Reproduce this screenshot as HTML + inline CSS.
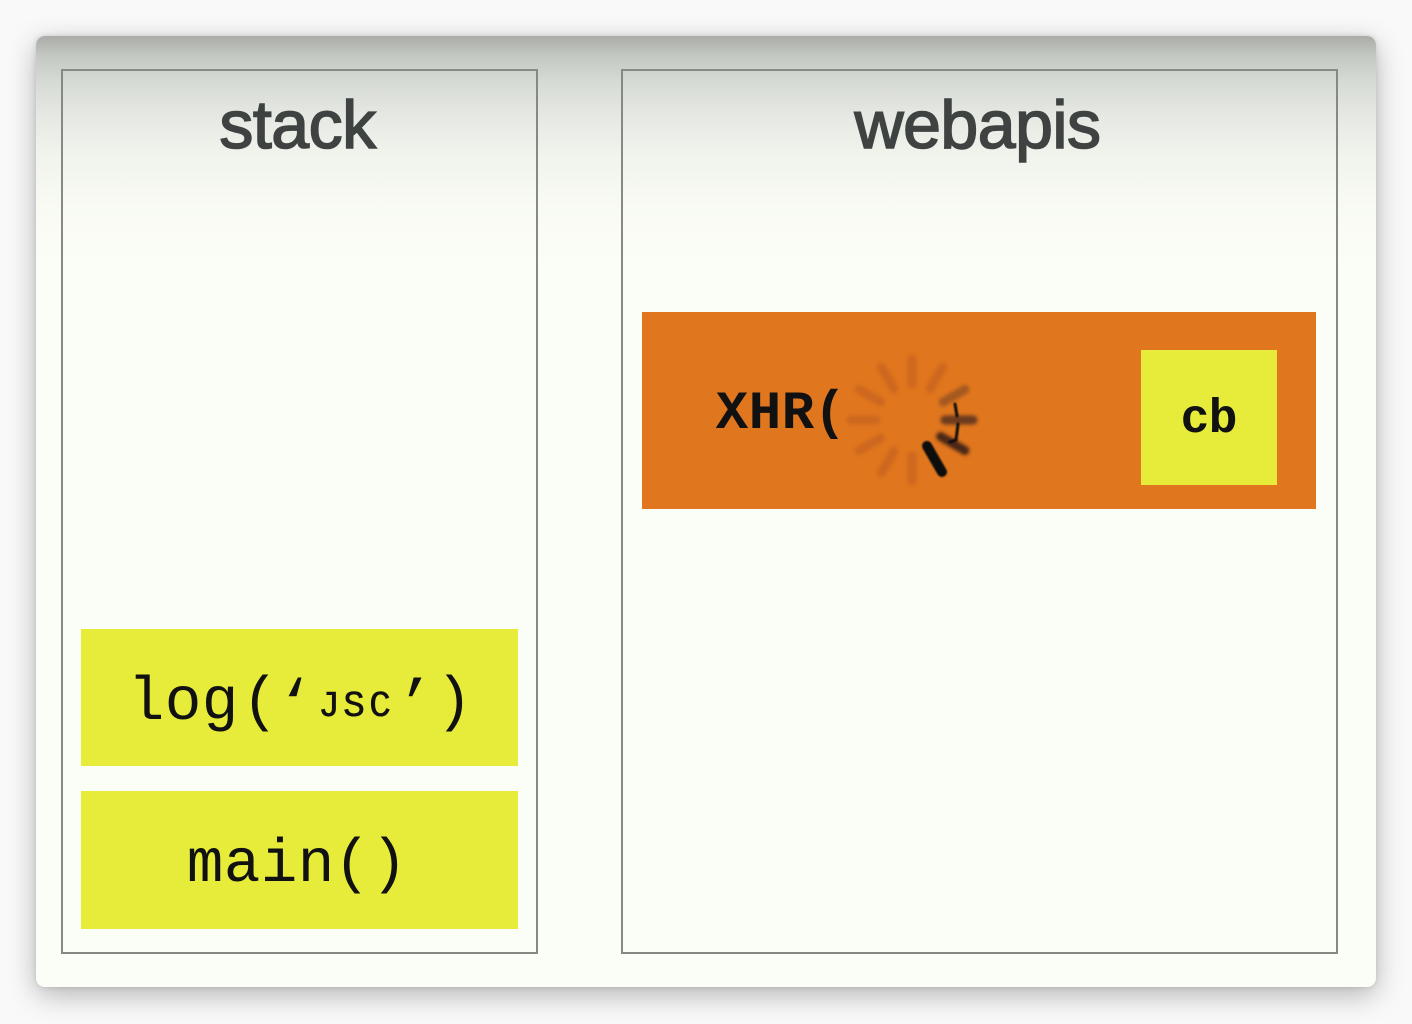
<!DOCTYPE html>
<html>
<head>
<meta charset="utf-8">
<style>
  html,body{margin:0;padding:0;}
  body{width:1412px;height:1024px;background:#f9f9f9;position:relative;overflow:hidden;}
  .card{position:absolute;left:36px;top:36px;width:1340px;height:951px;border-radius:9px;
    background:linear-gradient(to bottom,#aaada7 0px,#c4c8c2 20px,#d6dad4 45px,#e6e9e3 80px,#f1f4ed 120px,#f8faf3 170px,#fbfdf7 230px,#fbfdf7 100%);
    box-shadow:0 8px 28px rgba(0,0,0,0.28),0 0 6px rgba(0,0,0,0.12);}
  .panel{position:absolute;border:2px solid #858a85;box-sizing:border-box;}
  .title{position:absolute;text-align:center;font-family:"Liberation Sans",sans-serif;
    font-weight:normal;font-size:68px;line-height:68px;color:#3e4342;letter-spacing:-0.5px;
    -webkit-text-stroke:1.6px #3e4342;}
  .yel{position:absolute;background:#e7ec3b;}
  .ch{position:absolute;width:60px;text-align:center;font-family:"Liberation Mono",monospace;color:#111;}
  .m61{font-size:61px;line-height:61px;}
  .s36{font-size:36px;line-height:36px;-webkit-text-stroke:0.6px #111;}
  .xhr{font-size:54px;line-height:54px;font-weight:bold;}
  .cb{font-size:48px;line-height:48px;font-weight:bold;}
</style>
</head>
<body>
<div class="card"></div>

<!-- stack panel -->
<div class="panel" style="left:61px;top:69px;width:477px;height:885px;"></div>
<div class="title" style="left:59px;width:477px;top:91px;">stack</div>

<!-- webapis panel -->
<div class="panel" style="left:621px;top:69px;width:717px;height:885px;"></div>
<div class="title" style="left:619px;width:717px;top:91px;">webapis</div>

<!-- log('JSC') box -->
<div class="yel" style="left:81px;top:629px;width:437px;height:137px;"></div>
<span class="ch m61" style="left:116px;top:673px;">l</span>
<span class="ch m61" style="left:153px;top:673px;">o</span>
<span class="ch m61" style="left:190px;top:673px;">g</span>
<span class="ch m61" style="left:230px;top:673px;">(</span>
<span class="ch m61" style="left:265px;top:676px;">‘</span>
<span class="ch s36" style="left:299px;top:689px;">J</span>
<span class="ch s36" style="left:324px;top:689px;">S</span>
<span class="ch s36" style="left:350px;top:689px;">C</span>
<span class="ch m61" style="left:385px;top:676px;">’</span>
<span class="ch m61" style="left:424px;top:673px;">)</span>

<!-- main() box -->
<div class="yel" style="left:81px;top:791px;width:437px;height:138px;"></div>
<span class="ch m61" style="left:175px;top:835px;">m</span>
<span class="ch m61" style="left:212px;top:835px;">a</span>
<span class="ch m61" style="left:249px;top:835px;">i</span>
<span class="ch m61" style="left:286px;top:835px;">n</span>
<span class="ch m61" style="left:322px;top:835px;">(</span>
<span class="ch m61" style="left:359px;top:835px;">)</span>

<!-- XHR box -->
<div style="position:absolute;left:642px;top:312px;width:674px;height:197px;background:#e0761e;"></div>
<span class="ch xhr" style="left:702px;top:388px;">X</span>
<span class="ch xhr" style="left:735px;top:388px;">H</span>
<span class="ch xhr" style="left:768px;top:388px;">R</span>
<span class="ch xhr" style="left:800px;top:388px;">(</span>

<svg style="position:absolute;left:840px;top:350px;" width="150" height="140" viewBox="840 350 150 140">
  <defs>
    <filter id="bl" x="-50%" y="-50%" width="200%" height="200%"><feGaussianBlur stdDeviation="1.8"/></filter>
    <filter id="bl2" x="-50%" y="-50%" width="200%" height="200%"><feGaussianBlur stdDeviation="0.8"/></filter>
  </defs>
  <g transform="translate(912 420)" stroke-linecap="round" filter="url(#bl)">
    <g stroke="#c25d1c" stroke-opacity="0.6" stroke-width="9">
      <line x1="0" y1="-36" x2="0" y2="-61" transform="rotate(0)"/>
      <line x1="0" y1="-36" x2="0" y2="-61" transform="rotate(30)"/>
      <line x1="0" y1="-36" x2="0" y2="-61" transform="rotate(180)"/>
      <line x1="0" y1="-36" x2="0" y2="-61" transform="rotate(210)"/>
      <line x1="0" y1="-36" x2="0" y2="-61" transform="rotate(240)"/>
      <line x1="0" y1="-36" x2="0" y2="-61" transform="rotate(270)"/>
      <line x1="0" y1="-36" x2="0" y2="-61" transform="rotate(300)"/>
      <line x1="0" y1="-36" x2="0" y2="-61" transform="rotate(330)"/>
    </g>
    <line x1="0" y1="-36" x2="0" y2="-61" transform="rotate(60)" stroke="#9a541f" stroke-opacity="0.85" stroke-width="9"/>
    <line x1="0" y1="-33" x2="0" y2="-61" transform="rotate(90)" stroke="#6a3a1c" stroke-width="9"/>
    <line x1="0" y1="-33" x2="0" y2="-61" transform="rotate(120)" stroke="#4a2814" stroke-width="9"/>
  </g>
  <g transform="translate(912 420)" stroke-linecap="round" filter="url(#bl2)">
    <line x1="0" y1="-30" x2="0" y2="-60" transform="rotate(150)" stroke="#111" stroke-width="10"/>
    <path d="M43 -16 L45 -4 M46 4 L44 20 L38 22" stroke="#111" stroke-width="3" fill="none"/>
  </g>
</svg>

<!-- cb box -->
<div class="yel" style="left:1141px;top:350px;width:136px;height:135px;"></div>
<span class="ch cb" style="left:1165px;top:396px;">c</span>
<span class="ch cb" style="left:1193px;top:396px;">b</span>
</body>
</html>
